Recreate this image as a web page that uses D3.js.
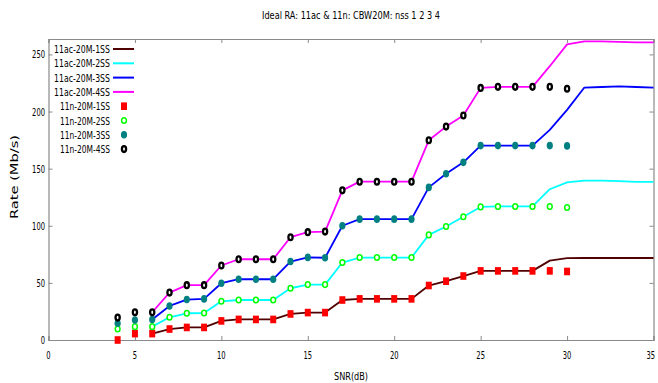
<!DOCTYPE html>
<html>
<head>
<meta charset="utf-8">
<script src="https://cdn.jsdelivr.net/npm/d3@7"></script>
<style>
  body { margin: 0; background: #fff; }
  svg text { font-family: "Liberation Sans Narrow", "DejaVu Sans Condensed", "Liberation Sans", sans-serif; fill: #000; }
</style>
</head>
<body>
<div class="container"></div>
<script>
const title = "Ideal RA: 11ac & 11n: CBW20M: nss 1 2 3 4";
const xTicks = [0, 5, 10, 15, 20, 25, 30, 35];
const yTicks = [0, 50, 100, 150, 200, 250];

// 11n points, SNR 4..30
const snrN = [4, 5, 6, 7, 8, 9, 10, 11, 12, 13, 14, 15, 16, 17, 18, 19, 20, 21, 22, 23, 24, 25, 26, 27, 28, 29, 30];
const n1ss = [0, 5.6, 5.6, 9.6, 11, 11, 16.7, 18, 18, 18, 22.8, 24, 24, 35, 36, 36, 36, 36, 47.7, 51.5, 56, 60.5, 60.5, 60.5, 60.5, 60.5, 60];
const n2ss = [9.6, 11.7, 11.7, 19.9, 23.4, 23.6, 33.9, 35, 35, 35, 45.3, 48.5, 48.5, 67.8, 72.2, 72.2, 72.2, 72.2, 92, 99.4, 107.9, 116.5, 116.9, 116.9, 116.9, 116.9, 116];
const n3ss = [14.6, 17.5, 18, 29.8, 35.4, 36, 49.7, 53.2, 53.2, 53.2, 68.7, 72.3, 72, 100, 105.8, 105.8, 105.8, 105.8, 133.6, 145.6, 155.5, 170.2, 170.2, 170.2, 170.2, 170.2, 169.9];
const n4ss = [19.6, 24.3, 24.3, 41.5, 48, 48, 65.2, 70.7, 70.7, 70.7, 90, 94.4, 94.9, 131, 138.6, 138.6, 138.6, 138.6, 174.8, 186.8, 196.5, 220.7, 221.6, 221.6, 221.6, 221.6, 219.9];

// 11ac lines, SNR 6..35
const snrAc = [6, 7, 8, 9, 10, 11, 12, 13, 14, 15, 16, 17, 18, 19, 20, 21, 22, 23, 24, 25, 26, 27, 28, 29, 30, 31, 32, 33, 34, 35];
const ac1ss = [5.6, 9.6, 11, 11, 16.7, 18, 18, 18, 22.8, 24, 24, 35, 36, 36, 36, 36, 47.7, 51.5, 56, 60.5, 60.5, 60.5, 60.5, 69.5, 71.6, 71.8, 71.8, 71.8, 71.8, 71.8];
const ac2ss = [11.7, 19.9, 23.4, 23.6, 33.9, 35, 35, 35, 45.3, 48.5, 48.5, 67.8, 72.2, 72.2, 72.2, 72.2, 92, 99.4, 107.9, 116.5, 116.9, 116.9, 116.9, 132, 138, 139.5, 139.5, 139, 138.5, 138.5];
const ac3ss = [18, 29.8, 35.4, 36, 49.7, 53.2, 53.2, 53.2, 68.7, 72.3, 72, 100, 105.8, 105.8, 105.8, 105.8, 133.6, 145.6, 155.5, 170.2, 170.2, 170.2, 170.2, 184, 201.5, 221, 221.5, 222, 221.5, 221];
const ac4ss = [24.3, 41.5, 48, 48, 65.2, 70.7, 70.7, 70.7, 90, 94.4, 94.9, 131, 138.6, 138.6, 138.6, 138.6, 174.8, 186.8, 196.5, 220.7, 221.6, 221.6, 221.6, 239.7, 258.8, 261.5, 261.5, 261, 260.5, 260.5];

const lineNames = ["11ac-20M-1SS", "11ac-20M-2SS", "11ac-20M-3SS", "11ac-20M-4SS"];
const pointNames = ["11n-20M-1SS", "11n-20M-2SS", "11n-20M-3SS", "11n-20M-4SS"];

const width = 658, height = 383;
const margin = { left: 48.5, right: 4.5, top: 39, bottom: 43 };

const svg = d3.select(".container").append("svg")
  .attr("width", width).attr("height", height);

const x = d3.scaleLinear().domain([0, 35]).range([margin.left, width - margin.right]);
const y = d3.scaleLinear().domain([0, 263.5]).range([height - margin.bottom, margin.top]);

// frame with inward ticks on all sides
const frame = svg.append("g");
frame.append("g").attr("transform", `translate(0,${y(0)})`)
  .call(d3.axisBottom(x).tickValues(xTicks).tickSize(-4).tickFormat(""));
frame.append("g").attr("transform", `translate(0,${y.range()[1]})`)
  .call(d3.axisTop(x).tickValues(xTicks).tickSize(-4).tickFormat(""));
frame.append("g").attr("transform", `translate(${x(0)},0)`)
  .call(d3.axisLeft(y).tickValues(yTicks).tickSize(-4).tickFormat(""));
frame.append("g").attr("transform", `translate(${x(35)},0)`)
  .call(d3.axisRight(y).tickValues(yTicks).tickSize(-4).tickFormat(""));
frame.selectAll(".domain").attr("stroke", "#8a8a8a").attr("stroke-width", 1.2);
frame.selectAll(".tick line").attr("stroke", "#8a8a8a");

// tick labels (narrow, like the original)
const digitW = 4.3;
svg.append("g").selectAll("text").data(xTicks).join("text")
  .attr("x", d => d === 35 ? width - 3 : x(d))
  .attr("y", 359)
  .attr("text-anchor", d => d === 35 ? "end" : "middle")
  .attr("font-size", 11)
  .attr("textLength", d => String(d).length * digitW)
  .attr("lengthAdjust", "spacingAndGlyphs")
  .text(d => d);
svg.append("g").selectAll("text").data(yTicks).join("text")
  .attr("x", 45).attr("y", d => y(d) + 4)
  .attr("text-anchor", "end").attr("font-size", 11)
  .attr("textLength", d => String(d).length * digitW)
  .attr("lengthAdjust", "spacingAndGlyphs")
  .text(d => d);

// titles
svg.append("text").attr("x", 351).attr("y", 19).attr("text-anchor", "middle")
  .attr("font-size", 11).attr("textLength", 178).attr("lengthAdjust", "spacingAndGlyphs")
  .text(title);
svg.append("text").attr("x", 351).attr("y", 380).attr("text-anchor", "middle")
  .attr("font-size", 11).attr("textLength", 34).attr("lengthAdjust", "spacingAndGlyphs")
  .text("SNR(dB)");
svg.append("text").attr("transform", "translate(18,177) rotate(-90)").attr("text-anchor", "middle")
  .attr("font-size", 11).attr("textLength", 84).attr("lengthAdjust", "spacingAndGlyphs")
  .text("Rate (Mb/s)");

// 11ac lines
const lineColors = ["#500000", "#00ffff", "#0000ff", "#ff00ff"];
const acSeries = [ac1ss, ac2ss, ac3ss, ac4ss];
const line = d3.line().x(d => x(d[0])).y(d => y(d[1]));
svg.append("g").selectAll("path").data(acSeries).join("path")
  .attr("d", vals => line(snrAc.map((s, i) => [s, vals[i]])))
  .attr("fill", "none")
  .attr("stroke", (d, i) => lineColors[i])
  .attr("stroke-width", 1.8)
  .attr("stroke-linejoin", "round");

// 11n point styles
function drawMarker(g, k) {
  if (k === 0) {
    g.append("rect").attr("x", -3).attr("y", -3.8).attr("width", 6).attr("height", 7.6).attr("fill", "#ff0000");
  } else if (k === 1) {
    g.append("ellipse").attr("rx", 2.4).attr("ry", 2.8).attr("fill", "#fff").attr("stroke", "#00ff00").attr("stroke-width", 1.5);
  } else if (k === 2) {
    g.append("ellipse").attr("rx", 3.1).attr("ry", 3.8).attr("fill", "#008080");
  } else {
    g.append("ellipse").attr("rx", 2.1).attr("ry", 2.9).attr("fill", "#fff").attr("stroke", "#000").attr("stroke-width", 2.3);
  }
}

const nSeries = [n1ss, n2ss, n3ss, n4ss];
nSeries.forEach((vals, k) => {
  svg.append("g").selectAll("g").data(snrN).join("g")
    .attr("transform", (s, i) => `translate(${x(s)},${y(vals[i])})`)
    .each(function() { drawMarker(d3.select(this), k); });
});

// legend
const legend = svg.append("g");
const rowY = i => 49 + i * 14.3;
lineNames.forEach((name, i) => {
  legend.append("text").attr("x", 110).attr("y", rowY(i) + 4).attr("text-anchor", "end")
    .attr("font-size", 11).attr("textLength", 56).attr("lengthAdjust", "spacingAndGlyphs").text(name);
  legend.append("line").attr("x1", 113).attr("x2", 134).attr("y1", rowY(i)).attr("y2", rowY(i))
    .attr("stroke", lineColors[i]).attr("stroke-width", 2);
});
pointNames.forEach((name, i) => {
  const r = i + 4;
  legend.append("text").attr("x", 110).attr("y", rowY(r) + 4).attr("text-anchor", "end")
    .attr("font-size", 11).attr("textLength", 50).attr("lengthAdjust", "spacingAndGlyphs").text(name);
  const g = legend.append("g").attr("transform", `translate(124,${rowY(r)})`);
  drawMarker(g, i);
});
</script>
</body>
</html>
